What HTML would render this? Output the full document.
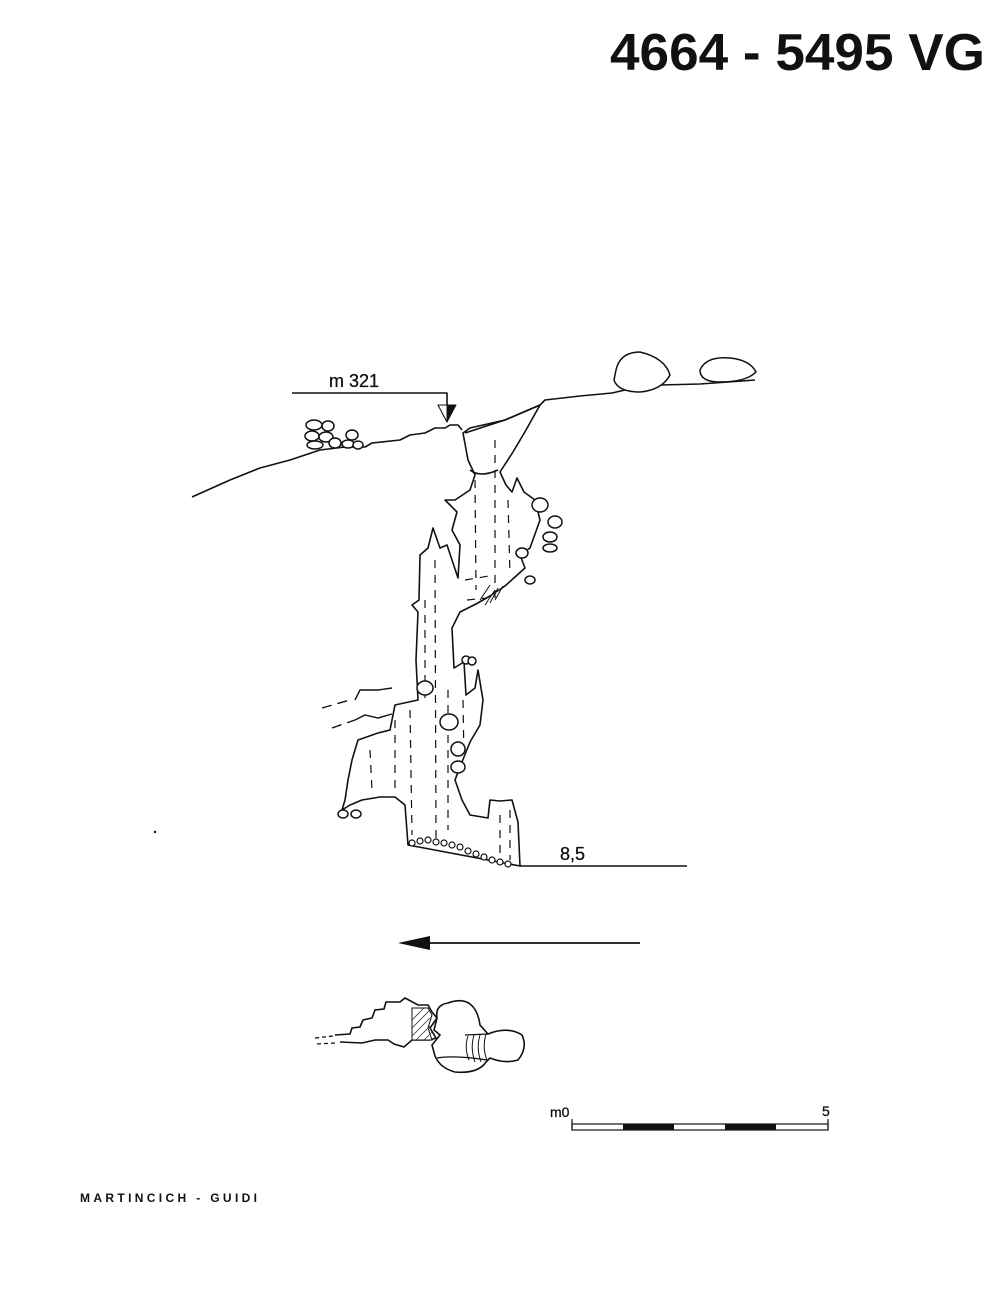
<!DOCTYPE html>
<html><head><style>
html,body{margin:0;padding:0;background:#fff;}
svg{display:block;}
text{font-family:"Liberation Sans",sans-serif;fill:#111;}
</style></head><body>
<svg width="1000" height="1296" viewBox="0 0 1000 1296" xmlns="http://www.w3.org/2000/svg">
<text x="610" y="70" font-size="52" font-weight="bold" textLength="375" lengthAdjust="spacingAndGlyphs">4664 - 5495 VG</text>

<g fill="none" stroke="#111" stroke-width="1.6" stroke-linejoin="round">
<polyline points="192,497 230,480 260,468 290,460 305,455 320,450 345,447 365,447 372,443 400,440 410,435 425,433 435,428 445,428 450,425 458,425 462,430"/>
<polyline points="465,433 505,420 540,405 545,400 580,396 612,393 625,390 640,388 660,385 700,384 755,380"/>
<polyline points="292,393 447,393 447,408"/>
<polygon points="438,405 456,405 447,422" fill="#111" stroke-width="1"/>
<polygon points="438,405 447,405 447,422" fill="#fff" stroke-width="1"/>
<polygon points="463,433 468,460 475,475 470,490 455,500 445,500 457,512 452,530 460,545 458,578 452,560 447,545 440,548 433,528 428,548 420,555 419,600 412,605 418,612 416,660 418,700 395,705 390,730 378,733 358,740 352,760 348,780 345,800 342,810 350,805 362,800 380,797 395,797 405,805 408,845 520,866 518,822 512,800 500,801 490,800 488,818 470,815 462,800 455,780 462,762 470,742 480,725 483,700 478,670 475,688 466,695 464,662 454,668 452,628 460,612 476,604 490,596 505,586 515,577 525,568 520,555 530,548 540,520 535,500 524,492 517,478 512,492 506,485 500,472 513,452 526,430 540,405 505,420 470,428" />
<path d="M470,470 Q480,478 498,470" />
</g>
<g stroke="#111" stroke-width="1.2" stroke-dasharray="8,7" fill="none">
<line x1="475" y1="480" x2="476" y2="590"/>
<line x1="495" y1="440" x2="495" y2="600"/>
<line x1="508" y1="500" x2="510" y2="575"/>
<line x1="435" y1="560" x2="436" y2="840"/>
<line x1="425" y1="600" x2="425" y2="700"/>
<line x1="410" y1="710" x2="412" y2="835"/>
<line x1="395" y1="720" x2="395" y2="790"/>
<line x1="370" y1="750" x2="372" y2="790"/>
<line x1="448" y1="690" x2="448" y2="830"/>
<line x1="463" y1="700" x2="464" y2="760"/>
<line x1="500" y1="815" x2="500" y2="860"/>
<line x1="510" y1="810" x2="510" y2="860"/>
<line x1="465" y1="580" x2="495" y2="575"/>
<line x1="467" y1="600" x2="487" y2="598"/>
</g>
<g stroke="#111" stroke-width="1.4" fill="none">
<path d="M322,708 L350,700 M332,728 L355,720" stroke-dasharray="10,6"/>
<polyline points="355,700 360,690 378,690 392,688"/>
<polyline points="355,720 365,715 378,718 392,714"/>
<path d="M480,600 L490,585 M485,605 L495,590 M490,603 L498,588 M495,600 L503,586" stroke-width="1"/>
</g>
<g fill="#fff" stroke="#111" stroke-width="1.5">
<path d="M616,370 Q620,352 640,352 Q665,358 670,375 Q662,390 640,392 Q618,392 614,380 Z"/>
<path d="M700,370 Q706,356 730,358 Q750,360 756,372 Q746,382 720,382 Q700,382 700,370 Z"/>
<ellipse cx="314" cy="425" rx="8" ry="5"/><ellipse cx="328" cy="426" rx="6" ry="5"/>
<ellipse cx="312" cy="436" rx="7" ry="5"/><ellipse cx="326" cy="437" rx="7" ry="5"/>
<ellipse cx="315" cy="445" rx="8" ry="4"/><ellipse cx="335" cy="443" rx="6" ry="5"/>
<ellipse cx="352" cy="435" rx="6" ry="5"/><ellipse cx="348" cy="444" rx="6" ry="4"/><ellipse cx="358" cy="445" rx="5" ry="4"/>
<ellipse cx="540" cy="505" rx="8" ry="7"/><ellipse cx="555" cy="522" rx="7" ry="6"/>
<ellipse cx="550" cy="537" rx="7" ry="5"/><ellipse cx="550" cy="548" rx="7" ry="4"/>
<ellipse cx="522" cy="553" rx="6" ry="5"/><ellipse cx="530" cy="580" rx="5" ry="4"/>
<ellipse cx="466" cy="660" rx="4" ry="4"/><ellipse cx="472" cy="661" rx="4" ry="4"/>
<ellipse cx="425" cy="688" rx="8" ry="7"/><ellipse cx="449" cy="722" rx="9" ry="8"/>
<ellipse cx="458" cy="749" rx="7" ry="7"/><ellipse cx="458" cy="767" rx="7" ry="6"/>
<ellipse cx="343" cy="814" rx="5" ry="4"/><ellipse cx="356" cy="814" rx="5" ry="4"/>
</g>
<g fill="#fff" stroke="#111" stroke-width="1.2">
<circle cx="412" cy="843" r="3"/><circle cx="420" cy="841" r="3"/><circle cx="428" cy="840" r="3"/><circle cx="436" cy="842" r="3"/><circle cx="444" cy="843" r="3"/><circle cx="452" cy="845" r="3"/><circle cx="460" cy="847" r="3"/><circle cx="468" cy="851" r="3"/><circle cx="476" cy="854" r="3"/><circle cx="484" cy="857" r="3"/><circle cx="492" cy="860" r="3"/><circle cx="500" cy="862" r="3"/><circle cx="508" cy="864" r="3"/>
</g>
<line x1="520" y1="866" x2="687" y2="866" stroke="#111" stroke-width="1.6"/>
<text x="329" y="387" font-size="18" stroke="#111" stroke-width="0.3">m 321</text>
<text x="560" y="860" font-size="18" stroke="#111" stroke-width="0.3">8,5</text>

<line x1="415" y1="943" x2="640" y2="943" stroke="#111" stroke-width="1.8"/>
<polygon points="398,943 430,936 430,950" fill="#111"/>

<g fill="none" stroke="#111" stroke-width="1.6">
<path d="M335,1035 L350,1034 L352,1028 L360,1027 L363,1020 L372,1018 L375,1010 L384,1009 L386,1002 L400,1002 L405,998 L418,1005 L428,1005 L432,1012 L437,1018 L430,1028 L436,1038 L430,1040 L412,1040 L404,1047 L394,1044 L388,1040 L375,1040 L362,1043 L340,1042"/>
<path d="M437,1018 Q435,1005 448,1003 Q462,998 470,1004 Q478,1010 480,1025 L488,1034 Q508,1026 522,1035 Q528,1048 518,1060 Q505,1064 490,1058 L486,1062 Q478,1074 455,1072 Q440,1068 435,1056 L432,1045 L440,1035 L434,1030 Z"/>
<path d="M437,1058 Q455,1055 487,1060" stroke-width="1.2"/>
<path d="M465,1035 L488,1034" stroke-width="1.2"/>
</g>
<polygon points="412,1008 428,1008 432,1015 428,1028 432,1040 412,1040" fill="#fff" stroke="#111" stroke-width="1"/>
<g stroke="#333" stroke-width="0.8">
<line x1="412" y1="1020" x2="424" y2="1008"/><line x1="412" y1="1028" x2="430" y2="1010"/><line x1="412" y1="1036" x2="430" y2="1018"/><line x1="416" y1="1040" x2="430" y2="1026"/><line x1="424" y1="1040" x2="432" y2="1032"/>
</g>
<g stroke="#111" stroke-width="1" fill="none">
<path d="M468,1036 Q464,1048 469,1060 M474,1035 Q470,1048 475,1062 M480,1035 Q476,1048 481,1062 M486,1034 Q482,1048 487,1060"/>
</g>
<g stroke="#111" stroke-width="1.3" stroke-dasharray="4,3"><line x1="315" y1="1038" x2="333" y2="1036"/><line x1="317" y1="1044" x2="335" y2="1043"/></g>

<text x="550" y="1117" font-size="14" stroke="#111" stroke-width="0.3">m0</text>
<text x="822" y="1116" font-size="14" stroke="#111" stroke-width="0.3">5</text>
<rect x="572" y="1124" width="256" height="6" fill="#fff" stroke="#111" stroke-width="1.2"/>
<rect x="623" y="1124" width="51" height="6" fill="#111"/>
<rect x="725" y="1124" width="51" height="6" fill="#111"/>
<line x1="572" y1="1119" x2="572" y2="1130" stroke="#111" stroke-width="1.2"/>
<line x1="828" y1="1119" x2="828" y2="1130" stroke="#111" stroke-width="1.2"/>

<text x="80" y="1202" font-size="12" font-weight="bold" textLength="177" lengthAdjust="spacing">MARTINCICH - GUIDI</text>
<circle cx="155" cy="832" r="1.2" fill="#111"/>
</svg>
</body></html>
